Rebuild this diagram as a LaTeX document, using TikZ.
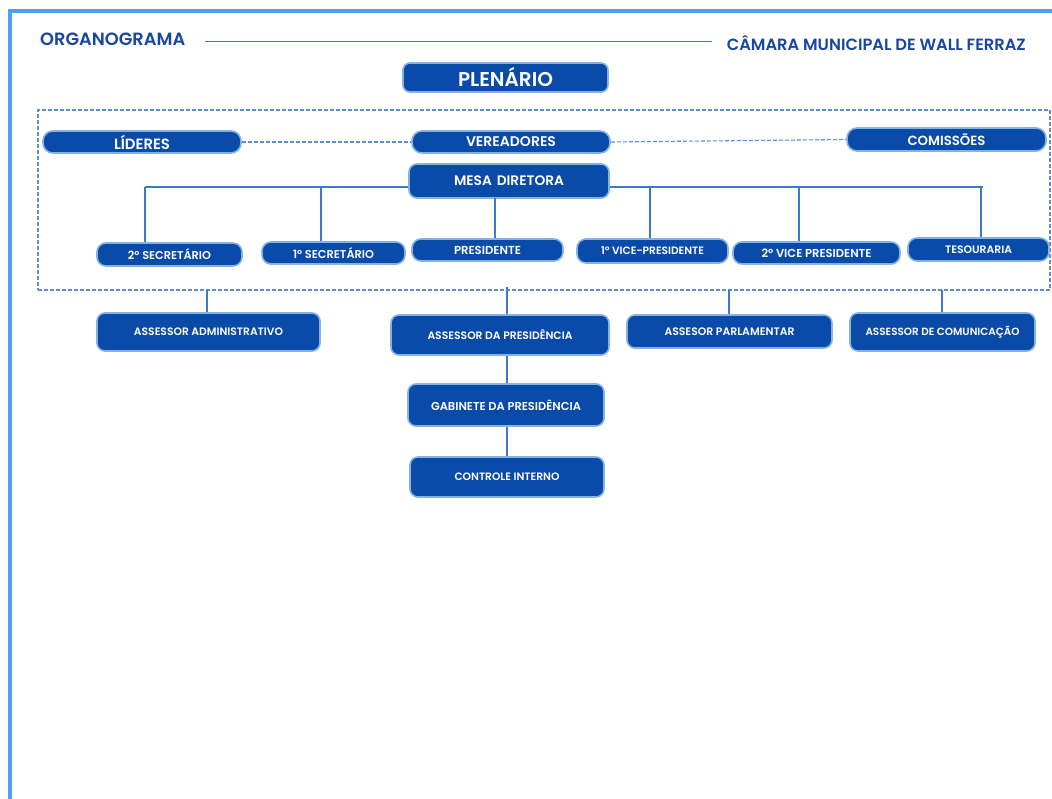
\documentclass[tikz,border=0pt]{standalone}
\usepackage{fontspec}
\usepackage{graphicx}
\setmainfont{Poppins}
\newfontfamily\semib{Poppins SemiBold}
\definecolor{boxblue}{HTML}{0A4BAA}
\definecolor{boxedge}{HTML}{84B3E3}
\definecolor{linecol}{HTML}{3F78C9}
\definecolor{dashcol}{HTML}{5C8FD5}
\definecolor{framecol}{HTML}{4E9EFA}
\definecolor{titlecol}{HTML}{1747A0}
\tikzset{
  box/.style={draw=boxedge, line width=1.6pt, fill=boxblue, text=white, inner sep=0pt, font=\semib},
  conn/.style={draw=linecol, line width=1.1pt},
  dconn/.style={draw=dashcol, line width=1.1pt, dash pattern=on 4pt off 2pt},
  grpbox/.style={draw=dashcol, line width=1.1pt, dash pattern=on 4pt off 2pt, inner sep=0pt},
  framel/.style={draw=framecol, line width=4pt},
  ttl/.style={text=titlecol, inner sep=0pt, font=\semib}
}
% \bx{name}{x1}{y1}{x2}{y2}{text}{radius}{textwidth}
\newcommand\bx[8]{\node[box, rounded corners=#7pt, minimum width={#4-#2}, minimum height={#5-#3}] (#1) at ({(#2+#4)/2},{(#3+#5)/2}) {\resizebox{#8pt}{!}{#6}};}
\begin{document}
\begin{tikzpicture}[x=1pt,y=-1pt]
\useasboundingbox (0,0) rectangle (1052,799);
\fill[white] (0,0) rectangle (1052,799);
% frame
\coordinate (fbl) at (9.5,799);
\coordinate (ftl) at (9.5,11);
\coordinate (ftr) at (1052,11);
\draw[framel] (fbl) -- (ftl) -- (ftr);
% header
\node[ttl, anchor=west] (org) at (40,39) {\resizebox{145pt}{!}{ORGANOGRAMA}};
\node[ttl, anchor=east] (cam) at (1026,43) {\resizebox{299pt}{!}{CÂMARA MUNICIPAL DE WALL FERRAZ}};
\coordinate (hl) at (205,42);
\coordinate (hr) at (712,42);
\draw[conn, line width=1pt] (hl) -- (hr);
% group box
\node[grpbox, minimum width=1012, minimum height=180] (grp) at (544,200) {};
% boxes
\bx{plen}{403}{63}{608}{92}{PLENÁRIO}{7}{95}
\bx{lid}{43}{131}{241}{153}{LÍDERES}{10}{56}
\bx{ver}{412}{131}{610}{153}{VEREADORES}{10}{90}
\bx{com}{847}{128}{1046}{151}{COMISSÕES}{10}{78}
\bx{mesa}{409}{164}{609}{198}{MESA\hspace{0.35em}DIRETORA}{8}{110}
\bx{sec2}{97}{243}{242}{266}{2º SECRETÁRIO}{9}{83}
\bx{sec1}{262}{242}{405}{264}{1º SECRETÁRIO}{9}{81}
\bx{pres}{412}{239}{563}{261}{PRESIDENTE}{9}{67}
\bx{vice1}{577}{239}{728}{263}{1º VICE-PRESIDENTE}{9}{103}
\bx{vice2}{733}{242}{900}{264}{2º VICE PRESIDENTE}{9}{110}
\bx{tes}{908}{238}{1049}{261}{TESOURARIA}{9}{67}
\bx{adm}{97}{313}{320}{351}{ASSESSOR ADMINISTRATIVO}{8}{149}
\bx{aspres}{391}{315}{609}{355}{ASSESSOR DA PRESIDÊNCIA}{8}{145}
\bx{parl}{627}{315}{832}{348}{ASSESOR PARLAMENTAR}{8}{130}
\bx{comu}{850}{313}{1035}{351}{ASSESSOR DE COMUNICAÇÃO}{8}{154}
\bx{gab}{408}{384}{604}{426}{GABINETE DA PRESIDÊNCIA}{8}{150}
\bx{ci}{410}{457}{604}{497}{CONTROLE INTERNO}{8}{105}
% dashed links
\draw[dconn] (lid.east) -- (ver.west);
\draw[dconn] (ver.east) -- (com.west);
% bus
\coordinate (busL) at (145,187);
\coordinate (busR) at (983,187);
\draw[conn] (busL) -- (busL -| mesa.west);
\draw[conn] (busR -| mesa.east) -- (busR);
\coordinate (t1) at (145,187);
\coordinate (t2) at (321,187);
\coordinate (t3) at (495,198);
\coordinate (t4) at (650,187);
\coordinate (t5) at (799,187);
\coordinate (t6) at (981,187);
\draw[conn] (t1) -- (t1 |- sec2.north);
\draw[conn] (t2) -- (t2 |- sec1.north);
\draw[conn] (t3) -- (t3 |- pres.north);
\draw[conn] (t4) -- (t4 |- vice1.north);
\draw[conn] (t5) -- (t5 |- vice2.north);
\draw[conn] (t6) -- (t6 |- tes.north);
% lower links
\coordinate (l1) at (207,290);
\coordinate (l2) at (507,287);
\coordinate (l3) at (729,290);
\coordinate (l4) at (942,290);
\draw[conn] (l1) -- (l1 |- adm.north);
\draw[conn] (l2) -- (l2 |- aspres.north);
\draw[conn] (l3) -- (l3 |- parl.north);
\draw[conn] (l4) -- (l4 |- comu.north);
\draw[conn] (l2 |- aspres.south) -- (l2 |- gab.north);
\draw[conn] (l2 |- gab.south) -- (l2 |- ci.north);
\end{tikzpicture}
\end{document}
